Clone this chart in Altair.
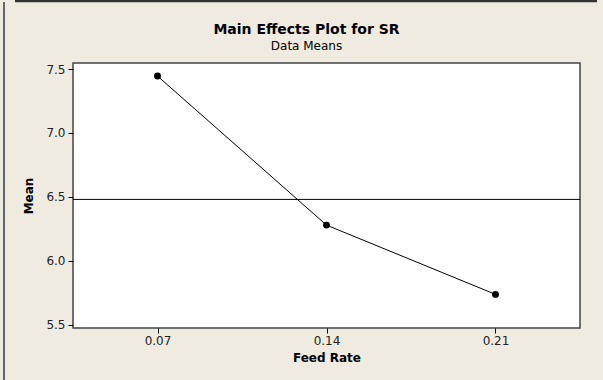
import altair as alt
import pandas as pd

feed_rate = [0.07, 0.14, 0.21]
mean_sr = [7.445, 6.279, 5.737]
grand_mean = [6.48]
y_ticks = [5.5, 6.0, 6.5, 7.0, 7.5]
x_ticks = [0.07, 0.14, 0.21]

df = pd.DataFrame({"Feed Rate": feed_rate, "Mean": mean_sr})
ref = pd.DataFrame({"m": grand_mean})

FONT = "DejaVu Sans"
BG = "#EFEBE1"

x_enc = alt.X("Feed Rate:Q",
              scale=alt.Scale(domain=[0.035, 0.245], nice=False, zero=False),
              axis=alt.Axis(values=x_ticks, format=".2f", title="Feed Rate",
                            grid=False, domain=False, tickSize=5, tickColor="#000",
                            labelPadding=2, titlePadding=6))
y_enc = alt.Y("Mean:Q",
              scale=alt.Scale(domain=[5.474, 7.547], nice=False, zero=False),
              axis=alt.Axis(values=y_ticks, format=".1f", title="Mean",
                            grid=False, domain=False, tickSize=5, tickColor="#000",
                            labelPadding=3, titlePadding=10))

line = alt.Chart(df).mark_line(color="#000", strokeWidth=1).encode(x=x_enc, y=y_enc)
pts = alt.Chart(df).mark_point(filled=True, color="#000", size=48, opacity=1).encode(x="Feed Rate:Q", y="Mean:Q")
hline = alt.Chart(ref).mark_rule(color="#000", strokeWidth=1).encode(y="m:Q")

# decorative frame pieces of the original screenshot
left_edge = alt.Chart(ref).mark_rule(color="#666", strokeWidth=2).encode(
    x=alt.value(-69), y=alt.value(-61), y2=alt.value(317))
top_edge = alt.Chart(ref).mark_rule(color="#333", strokeWidth=2.5).encode(
    x=alt.value(-58), x2=alt.value(524), y=alt.value(-62))

chart = alt.layer(hline, line, pts, left_edge, top_edge).properties(
    width=507, height=265,
    background=BG,
    autosize=alt.AutoSizeParams(type="none"),
    padding={"left": 73, "top": 63, "right": 23, "bottom": 52},
    title=alt.TitleParams(text="Main Effects Plot for SR", subtitle="Data Means",
                          font=FONT, fontSize=14, fontWeight="bold", color="#000",
                          subtitleFont=FONT, subtitleFontSize=12, subtitleColor="#000",
                          subtitlePadding=4, anchor="middle", frame="group",
                          dx=-20, offset=-52),
).configure_view(
    fill="white", stroke="#444", strokeWidth=1.5
).configure_axis(
    labelFont=FONT, labelFontSize=12, labelColor="#222",
    titleFont=FONT, titleFontSize=12, titleFontWeight="bold", titleColor="#000"
)

chart.save("out.html", embed_options={"renderer": "svg", "actions": False})
